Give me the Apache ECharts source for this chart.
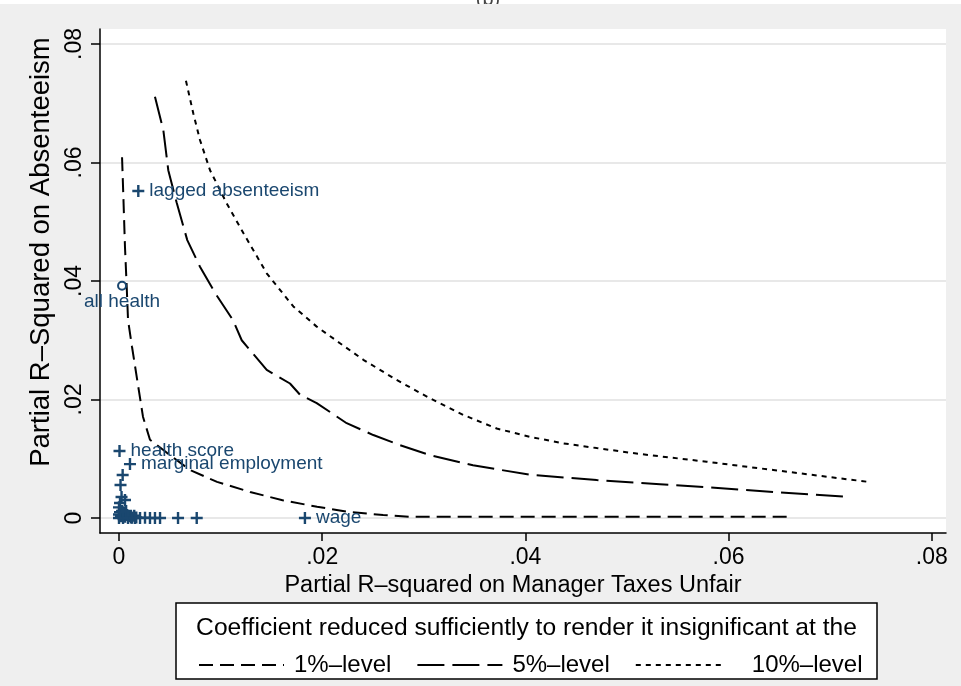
<!DOCTYPE html>
<html>
<head>
<meta charset="utf-8">
<script src="https://cdn.jsdelivr.net/npm/echarts@6/dist/echarts.min.js"></script>
<style>
html,body{margin:0;padding:0;background:#efefef;}
#chart{width:961px;height:686px;}
</style>
</head>
<body>
<div id="chart"></div>
<script>
// ---- tick values & labels ----
const xTicks = [0, 0.02, 0.04, 0.06, 0.08];
const xTickLabels = ['0', '.02', '.04', '.06', '.08'];
const yTicks = [0, 0.02, 0.04, 0.06, 0.08];
const yTickLabels = ['0', '.02', '.04', '.06', '.08'];

// ---- threshold curves [x, y] ----
const curve1 = [
  [0.0003, 0.0609], [0.00044, 0.0537], [0.00059, 0.0457], [0.00076, 0.0390],
  [0.00089, 0.0334], [0.00128, 0.0289], [0.00236, 0.0171], [0.00305, 0.0132],
  [0.00472, 0.0110], [0.00699, 0.0081], [0.00965, 0.0061], [0.0129, 0.0044],
  [0.0161, 0.0030], [0.0195, 0.0019], [0.0227, 0.0010], [0.0260, 0.0005],
  [0.0286, 0.0002], [0.0660, 0.0002]
];
const curve5 = [
  [0.00354, 0.0711], [0.00436, 0.0655], [0.00485, 0.0587], [0.00568, 0.0532],
  [0.00672, 0.0469], [0.00797, 0.0424], [0.00945, 0.0380], [0.01122, 0.0334],
  [0.01208, 0.0300], [0.01454, 0.0250], [0.01683, 0.0227], [0.01782, 0.0208],
  [0.01946, 0.0194], [0.02241, 0.0160], [0.02503, 0.0140], [0.02766, 0.0123],
  [0.03061, 0.0106], [0.03484, 0.0089], [0.04045, 0.0073], [0.04702, 0.0064],
  [0.05325, 0.0057], [0.05785, 0.0052], [0.06437, 0.0044], [0.07163, 0.0036]
];
const curve10 = [
  [0.00659, 0.0738], [0.00731, 0.0683], [0.00797, 0.0638], [0.00896, 0.0587],
  [0.0106, 0.0531], [0.01224, 0.0481], [0.01454, 0.0413], [0.01716, 0.0357],
  [0.01946, 0.0323], [0.02175, 0.0295], [0.02405, 0.0267], [0.02733, 0.0233],
  [0.03061, 0.0202], [0.03389, 0.0174], [0.03718, 0.0151], [0.04045, 0.0137],
  [0.04373, 0.0126], [0.04702, 0.0118], [0.05128, 0.0108], [0.05785, 0.0095],
  [0.0644, 0.0081], [0.07375, 0.0061]
];

// ---- covariates (unlabeled) [x, y] ----
const otherPoints = [
  [0.00036, 0.00726], [0.00015, 0.00557], [0.00025, 0.00354], [0.00059, 0.00304],
  [0.00010, 0.00253], [0.00000, 0.00180], [0.00030, 0.00120], [0.00050, 0.00080],
  [0.00000, 0.00060], [0.00020, 0.00030], [0.00060, 0.00020], [0.00080, 0.00050],
  [0.00100, 0.00030], [0.00120, 0.00010], [0.00040, 0.00000], [0.00000, 0.00000],
  [0.00150, 0.00040], [0.00170, 0.00010], [0.00010, 0.00100], [0.00070, 0.00120],
  [0.00089, 0.00000], [0.00128, 0.00005], [0.00157, 0.00000], [0.00207, 0.00000],
  [0.00256, 0.00005], [0.00305, 0.00000], [0.00354, 0.00000], [0.00404, 0.00000],
  [0.00581, 0.00000], [0.00765, 0.00000]
];
// ---- labeled covariates ----
const labeledNames = ['lagged absenteeism', 'health score', 'marginal employment', 'wage'];
const labeledX = [0.0019, 0.00005, 0.00108, 0.0183];
const labeledY = [0.0552, 0.0113, 0.0091, 0.0000];
const circleName = 'all health';
const circleX = 0.0003;
const circleY = 0.0392;

const legendTitle = 'Coefficient reduced sufficiently to render it insignificant at the';
const seriesNames = ['1%–level', '5%–level', '10%–level'];

const FONT = 'Liberation Sans, Arial, Helvetica, sans-serif';
const NAVY = '#1a476f';
const PLUS = 'path://M4.8,0h2.4v12h-2.4z M0,4.8h12v2.4h-12z';

const chart = echarts.init(document.getElementById('chart'), null, {renderer: 'canvas'});

function tickFmt(ticks, labels) {
  return function (v) {
    for (let i = 0; i < ticks.length; i++) {
      if (Math.abs(ticks[i] - v) < 1e-9) return labels[i];
    }
    return '';
  };
}

const option = {
  backgroundColor: '#efefef',
  animation: false,
  textStyle: {fontFamily: FONT},
  grid: {
    left: 100, right: 15, top: 29, bottom: 153,
    show: true, backgroundColor: '#ffffff', borderWidth: 0
  },
  xAxis: {
    type: 'value',
    min: -0.00187, max: 0.0814,
    name: 'Partial R–squared on Manager Taxes Unfair',
    nameLocation: 'middle', nameGap: 40,
    nameTextStyle: {fontFamily: FONT, fontSize: 23.5, color: '#000', padding: [0, 20, 0, 0]},
    axisLine: {show: true, onZero: false, lineStyle: {color: '#000', width: 1.5}},
    axisTick: {show: true, length: 8, customValues: xTicks, lineStyle: {color: '#000', width: 1.5}},
    axisLabel: {customValues: xTicks, formatter: tickFmt(xTicks, xTickLabels),
      fontFamily: FONT, fontSize: 23, color: '#000', margin: 13},
    splitLine: {show: false}
  },
  yAxis: {
    type: 'value',
    min: -0.00253, max: 0.08253,
    name: 'Partial R–Squared on Absenteeism',
    nameLocation: 'middle', nameGap: 42, nameRotate: 90,
    nameTextStyle: {fontFamily: FONT, fontSize: 27.5, color: '#000', padding: [0, 0, 0, 58]},
    axisLine: {show: true, onZero: false, lineStyle: {color: '#000', width: 1.5}},
    axisTick: {show: true, length: 9, customValues: yTicks, lineStyle: {color: '#000', width: 1.5}},
    axisLabel: {customValues: yTicks, formatter: tickFmt(yTicks, yTickLabels), rotate: 90,
      fontFamily: FONT, fontSize: 23, color: '#000', margin: 14},
    splitLine: {show: true, lineStyle: {color: '#e8e8e8', width: 2}}
  },
  legend: {
    left: 193, top: 648,
    itemWidth: 85, itemHeight: 26, itemGap: 25,
    selectedMode: false,
    itemStyle: {opacity: 0},
    textStyle: {fontFamily: FONT, fontSize: 24, color: '#000', padding: [0, 0, 0, 5]},
    data: [
      {name: seriesNames[0]},
      {name: seriesNames[1]},
      {name: seriesNames[2], textStyle: {padding: [0, 0, 0, 26]}}
    ]
  },
  graphic: [
    {type: 'rect', z: 0, shape: {x: 0, y: 0, width: 961, height: 4}, style: {fill: '#ffffff'}},
    {type: 'text', z: 0, style: {text: '(b)', x: 488, y: 9, align: 'center', verticalAlign: 'bottom',
      font: '20px ' + FONT, fill: '#444'}},
    {type: 'rect', z: 0, shape: {x: 0, y: 4, width: 961, height: 22}, style: {fill: '#efefef'}},
    {type: 'rect', z: 0, shape: {x: 176, y: 603, width: 701, height: 76},
      style: {fill: '#ffffff', stroke: '#000', lineWidth: 1.5}},
    {type: 'text', z: 1, style: {text: legendTitle, x: 526.5, y: 628, align: 'center', verticalAlign: 'middle',
      font: '24.6px ' + FONT, fill: '#000'}}
  ],
  series: [
    {name: seriesNames[0], type: 'line', data: curve1, symbol: 'none', showSymbol: false,
      lineStyle: {color: '#000', width: 2, type: [14, 7]}, itemStyle: {color: '#000'}, z: 2},
    {name: seriesNames[1], type: 'line', data: curve5, symbol: 'none', showSymbol: false,
      lineStyle: {color: '#000', width: 2, type: [27, 8]}, itemStyle: {color: '#000'}, z: 2},
    {name: seriesNames[2], type: 'line', data: curve10, symbol: 'none', showSymbol: false,
      lineStyle: {color: '#000', width: 2, type: [5, 5]}, itemStyle: {color: '#000'}, z: 2},
    {name: 'covariates', type: 'scatter', data: otherPoints, symbol: PLUS, symbolSize: 12,
      itemStyle: {color: NAVY, opacity: 1}, z: 3},
    {name: 'labeled', type: 'scatter', symbol: PLUS, symbolSize: 12,
      data: labeledNames.map((n, i) => ({name: n, value: [labeledX[i], labeledY[i]]})),
      itemStyle: {color: NAVY, opacity: 1}, z: 3,
      label: {show: true, position: 'right', distance: 5, formatter: '{b}',
        fontFamily: FONT, fontSize: 19, color: NAVY}},
    {name: 'circle', type: 'scatter', symbol: 'emptyCircle', symbolSize: 8,
      data: [{name: circleName, value: [circleX, circleY]}],
      itemStyle: {color: NAVY, borderColor: NAVY, borderWidth: 2, opacity: 1}, z: 3,
      label: {show: true, position: 'bottom', distance: 2, formatter: '{b}',
        fontFamily: FONT, fontSize: 19, color: NAVY}}
  ]
};
chart.setOption(option);
</script>
</body>
</html>
